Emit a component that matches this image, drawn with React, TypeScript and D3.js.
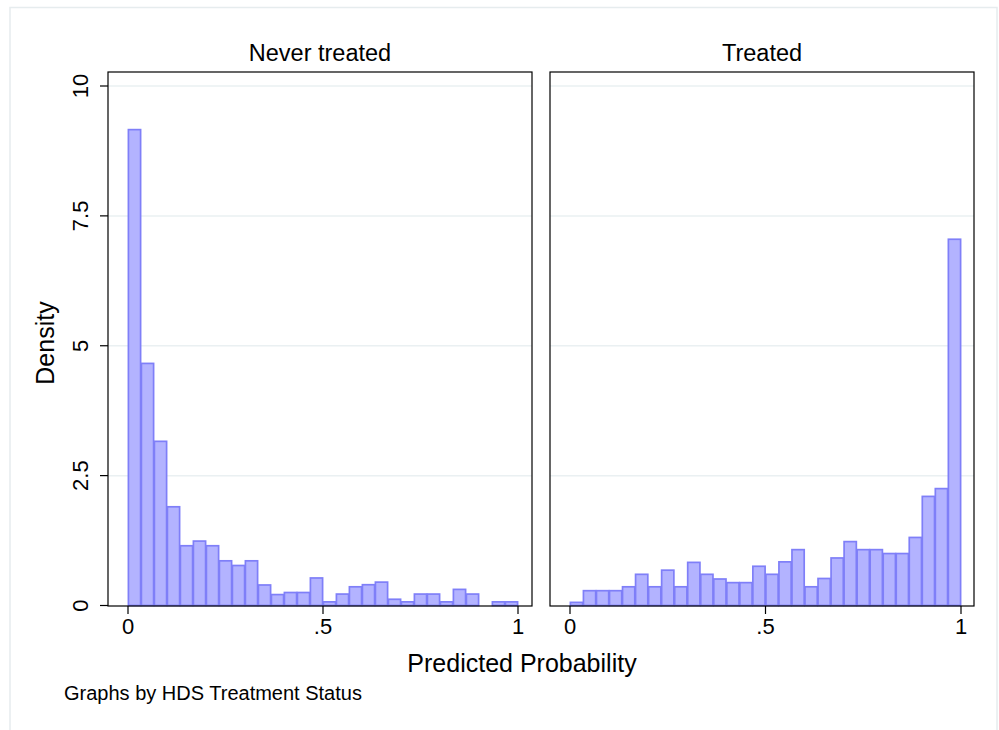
import React from "react";
import * as d3 from "d3";

const panelTitles = ["Never treated", "Treated"];
const neverTreated = [9.16, 4.66, 3.16, 1.9, 1.15, 1.24, 1.15, 0.86, 0.77, 0.86, 0.395, 0.21, 0.25, 0.25, 0.53, 0.07, 0.22, 0.36, 0.4, 0.45, 0.12, 0.07, 0.22, 0.22, 0.07, 0.31, 0.22, 0, 0.07, 0.07];
const treated = [0.06, 0.285, 0.285, 0.285, 0.36, 0.6, 0.36, 0.68, 0.36, 0.83, 0.6, 0.51, 0.44, 0.44, 0.755, 0.6, 0.84, 1.075, 0.36, 0.52, 0.915, 1.23, 1.075, 1.075, 1.0, 1.0, 1.31, 2.1, 2.25, 7.05];
const yTicks = [0, 2.5, 5, 7.5, 10];
const yTickLabels = ["0", "2.5", "5", "7.5", "10"];
const xTicks = [0, 0.5, 1];
const xTickLabels = ["0", ".5", "1"];
const binWidth = 1 / 30;

const FONT = "'Liberation Sans', Arial, Helvetica, sans-serif";

const W = 999;
const H = 730;
const top = 72;
const bottom = 606;
const panels = [
  { x0: 108, x1: 532, r0: 128, r1: 518, data: neverTreated, title: panelTitles[0] },
  { x0: 550, x1: 974, r0: 570, r1: 961, data: treated, title: panelTitles[1] },
];

export default function App() {
  const y = d3.scaleLinear().domain([0, 10]).range([605.5, 86]);
  return (
    <svg width={W} height={H} style={{ position: "absolute", left: 0, top: 0, background: "#fff" }} fontFamily={FONT}>
      <rect x={10} y={7.5} width={987} height={730} fill="#fff" stroke="#e6ecee" strokeWidth={1.5} />
      {panels.map((p, pi) => {
        const x = d3.scaleLinear().domain([0, 1]).range([p.r0, p.r1]);
        return (
          <g key={pi}>
            {yTicks.filter((t) => t > 0).map((t) => (
              <line key={t} x1={p.x0} x2={p.x1} y1={y(t)} y2={y(t)} stroke="#eaf0f2" strokeWidth={1.5} />
            ))}
            {p.data.map((v, i) =>
              v > 0 ? (
                <rect
                  key={i}
                  x={x(i * binWidth) + 0.4}
                  y={y(v)}
                  width={x((i + 1) * binWidth) - x(i * binWidth) - 0.8}
                  height={y(0) - y(v)}
                  fill="#b3b3ff"
                  stroke="#7f7ff8"
                  strokeWidth={1.7}
                />
              ) : null
            )}
            <rect x={p.x0} y={top} width={p.x1 - p.x0} height={bottom - top} fill="none" stroke="#000" strokeWidth={1.2} />
            {xTicks.map((t, i) => (
              <g key={t}>
                <line x1={x(t)} x2={x(t)} y1={bottom} y2={bottom + 8} stroke="#000" strokeWidth={1.2} />
                <text x={x(t)} y={634} textAnchor="middle" fontSize={22} fill="#000">
                  {xTickLabels[i]}
                </text>
              </g>
            ))}
            <text x={(p.x0 + p.x1) / 2} y={61} textAnchor="middle" fontSize={23.5} fill="#000">
              {p.title}
            </text>
          </g>
        );
      })}
      {yTicks.map((t, i) => (
        <g key={t}>
          <line x1={100} x2={108} y1={y(t)} y2={y(t)} stroke="#000" strokeWidth={1.2} />
          <text transform={`translate(88,${y(t)}) rotate(-90)`} textAnchor="middle" fontSize={22} fill="#000">
            {yTickLabels[i]}
          </text>
        </g>
      ))}
      <text transform={`translate(53.5,343) rotate(-90)`} textAnchor="middle" fontSize={25} fill="#000">
        Density
      </text>
      <text x={522} y={672} textAnchor="middle" fontSize={25} fill="#000">
        Predicted Probability
      </text>
      <text x={64} y={700} fontSize={20} fill="#000">
        Graphs by HDS Treatment Status
      </text>
    </svg>
  );
}
